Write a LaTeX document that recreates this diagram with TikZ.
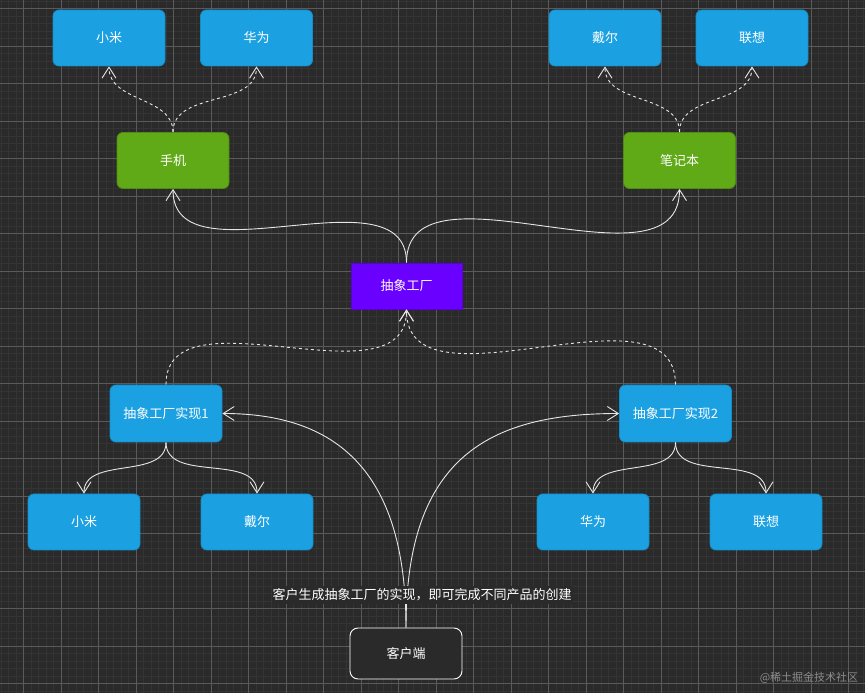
\documentclass[tikz,border=0pt]{standalone}
\usepackage{fontspec}
\setmainfont{Noto Sans CJK SC}
\usetikzlibrary{arrows.meta}
\definecolor{canvasBg}{HTML}{2A2A2A}
\definecolor{gridMinor}{HTML}{343434}
\definecolor{gridMajor}{HTML}{5A5A5A}
\definecolor{brandBlue}{HTML}{1BA1E2}
\definecolor{brandEdge}{HTML}{168CC6}
\definecolor{catGreen}{HTML}{60A917}
\definecolor{catEdge}{HTML}{4E8C12}
\definecolor{factPurple}{HTML}{6A00FF}
\definecolor{factEdge}{HTML}{5800D6}
\definecolor{wire}{HTML}{E6E6E6}
\definecolor{markGrey}{HTML}{8C8C8C}
\tikzset{
  font=\fontsize{13}{15}\selectfont,
  brand/.style={rectangle, rounded corners=6pt, draw=brandEdge, line width=0.8pt,
                fill=brandBlue, text=white, align=center, inner sep=0pt,
                minimum width=112pt, minimum height=56pt},
  category/.style={brand, draw=catEdge, fill=catGreen},
  abstractbox/.style={rectangle, draw=factEdge, line width=0.8pt, fill=factPurple,
                      text=white, inner sep=0pt, minimum width=111pt, minimum height=46pt},
  implbox/.style={brand, minimum height=57pt},
  clientbox/.style={rectangle, rounded corners=8pt, draw=white, line width=0.9pt,
                    fill=canvasBg, text=white, inner sep=0pt,
                    minimum width=112pt, minimum height=51pt},
  solidedge/.style={-{Straight Barb[length=11pt, width=14pt]}, draw=wire, line width=0.9pt},
  dashedge/.style={solidedge, dash pattern=on 3pt off 3pt},
  caption/.style={text=white, fill=canvasBg, inner xsep=1pt, inner ysep=3pt},
  watermark/.style={text=markGrey, font=\fontsize{11}{13}\selectfont},
}

\begin{document}
\begin{tikzpicture}[x=1pt, y=1pt]

% --- canvas and grid ---
\fill[canvasBg] (0,0) rectangle (865,693);
\useasboundingbox (0,0) rectangle (865,693);
\foreach \gx in {1,8.5,...,865} \draw[gridMinor, line width=0.5pt] (\gx,0) -- (\gx,693);
\foreach \gy in {2,9.5,...,693} \draw[gridMinor, line width=0.5pt] (0,\gy) -- (865,\gy);
\foreach \gx in {23.5,61,...,865} \draw[gridMajor, line width=0.6pt] (\gx,0) -- (\gx,693);
\foreach \gy in {9.5,47,...,693} \draw[gridMajor, line width=0.6pt] (0,\gy) -- (865,\gy);

% --- products on top ---
\node[brand] (xiaomiTop) at (109, 655) {小米};
\node[brand] (huaweiTop) at (256.5, 655) {华为};
\node[brand] (dellTop)   at (605, 655) {戴尔};
\node[brand] (lenovoTop) at (752, 655) {联想};

\node[category] (phone)  at (173, 532.5) {手机};
\node[category] (laptop) at (679.5, 532.5) {笔记本};

\node[abstractbox] (factory) at (406.5, 407) {抽象工厂};

\node[implbox] (implA) at (166, 279.5) {抽象工厂实现1};
\node[implbox] (implB) at (675.5, 279.5) {抽象工厂实现2};

% --- products at the bottom ---
\node[brand] (xiaomiLow) at (84, 171) {小米};
\node[brand] (dellLow)   at (257, 171) {戴尔};
\node[brand] (huaweiLow) at (593, 171) {华为};
\node[brand] (lenovoLow) at (766, 171) {联想};

\node[clientbox] (client) at (406, 39.5) {客户端};

% --- dashed edges ---
\draw[dashedge] (phone.north)  to[out=90, in=-90] (xiaomiTop.south);
\draw[dashedge] (phone.north)  to[out=90, in=-90] (huaweiTop.south);
\draw[dashedge] (laptop.north) to[out=90, in=-90] (dellTop.south);
\draw[dashedge] (laptop.north) to[out=90, in=-90] (lenovoTop.south);
\draw[dashedge] (implA.north)  to[out=90, in=-90] (factory.south);
\draw[dashedge] (implB.north)  to[out=90, in=-90] (factory.south);

% --- solid edges ---
\draw[solidedge] (factory.north) to[out=90, in=-90] (phone.south);
\draw[solidedge] (factory.north) to[out=90, in=-90] (laptop.south);
\draw[solidedge] (implA.south) to[out=-90, in=90] (xiaomiLow.north);
\draw[solidedge] (implA.south) to[out=-90, in=90] (dellLow.north);
\draw[solidedge] (implB.south) to[out=-90, in=90] (huaweiLow.north);
\draw[solidedge] (implB.south) to[out=-90, in=90] (lenovoLow.north);
\draw[solidedge] (client.north) .. controls +(0,150) and +(120,0) .. (implA.east);
\draw[solidedge] (client.north) .. controls +(0,170) and +(-130,0) .. (implB.west);

\node[caption] (note) at (422, 98) {客户生成抽象工厂的实现，即可完成不同产品的创建};
\node[watermark] (mark) at (809, 15) {@稀土掘金技术社区};

\end{tikzpicture}
\end{document}
